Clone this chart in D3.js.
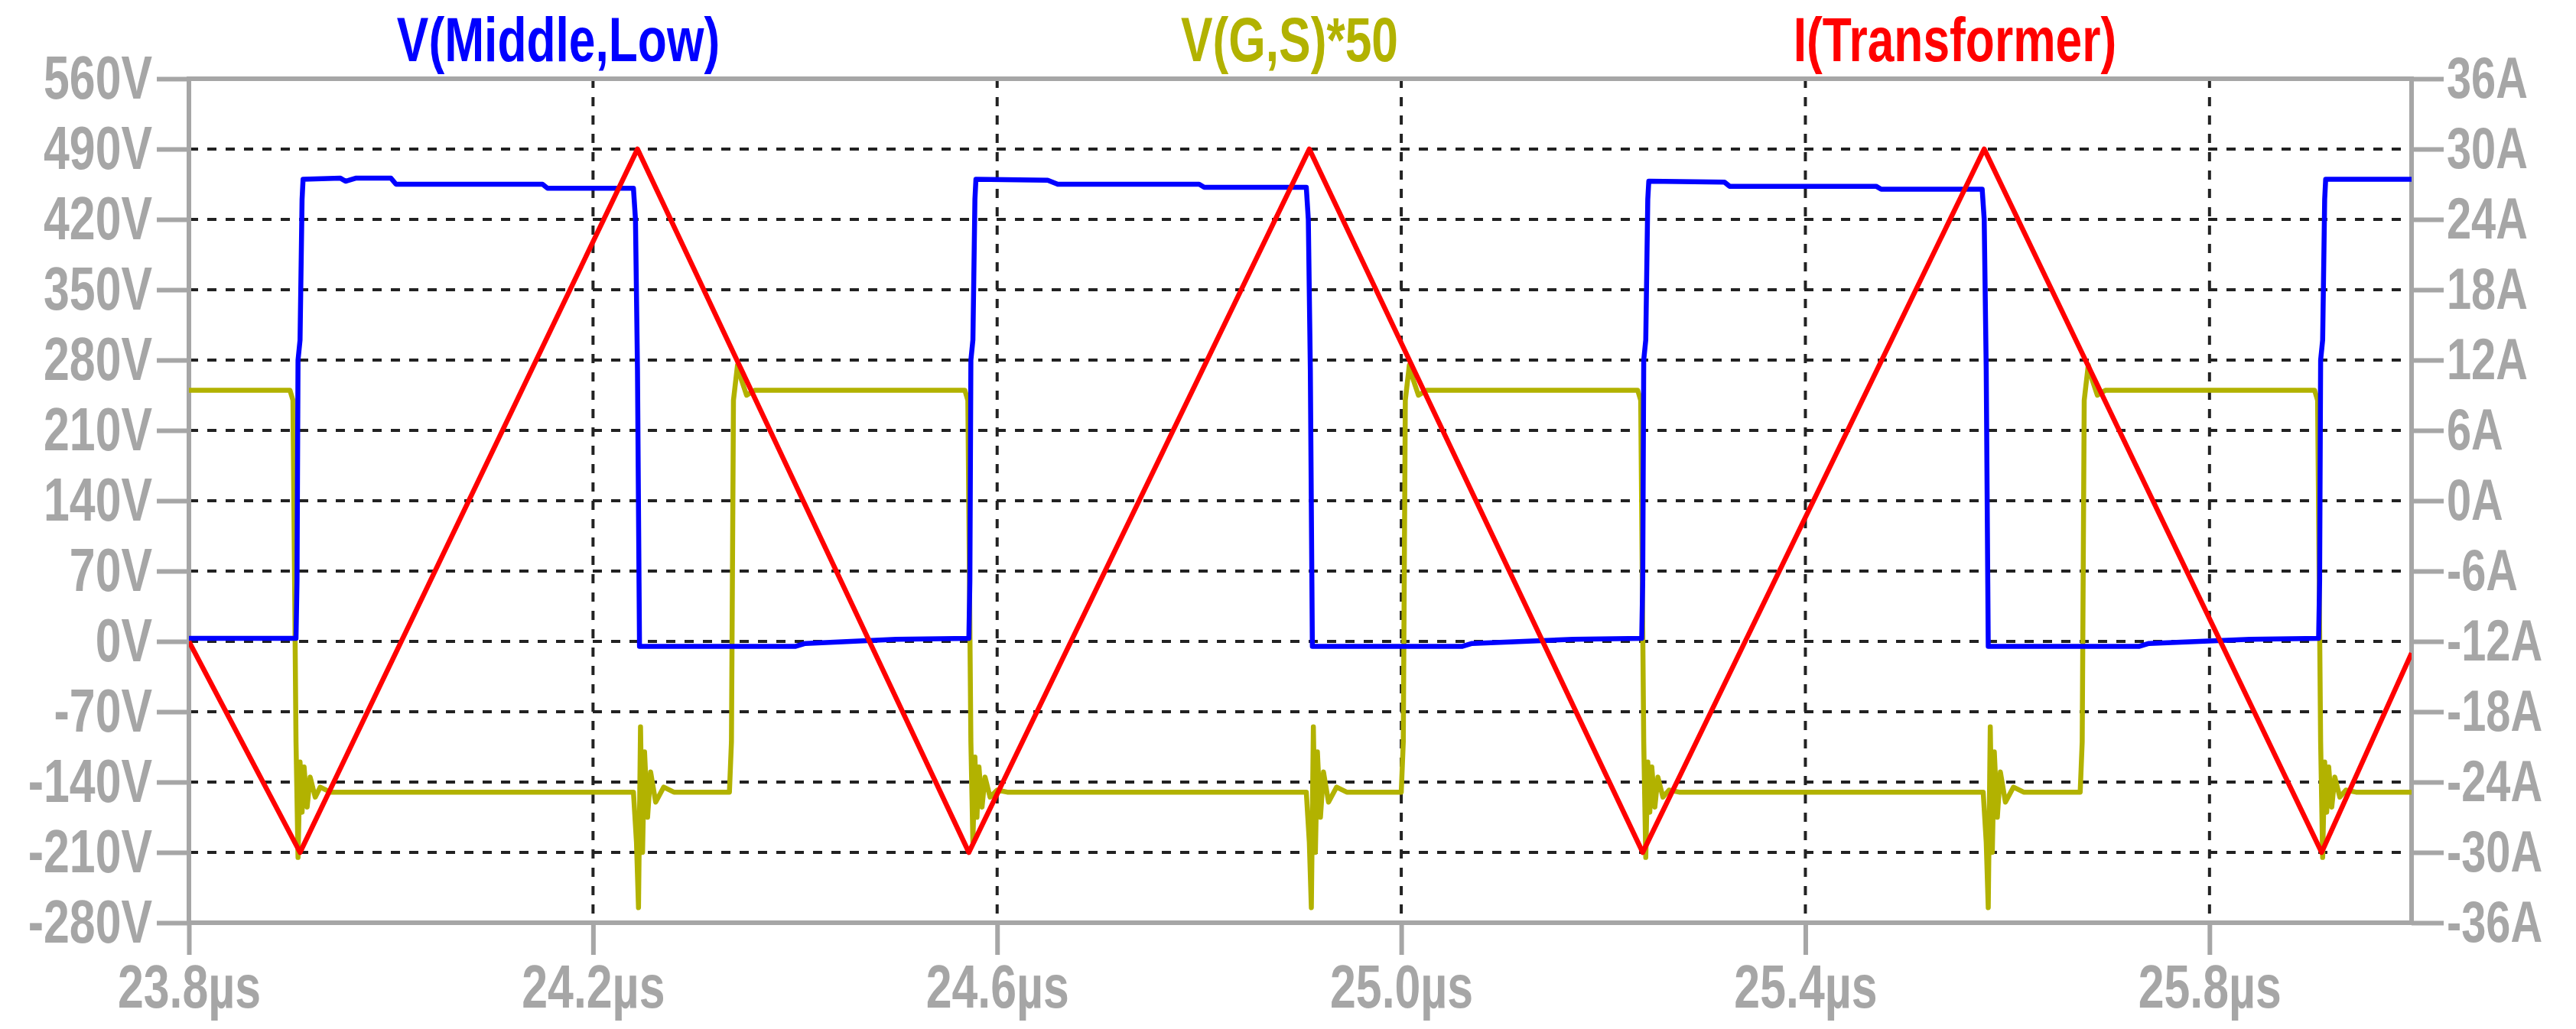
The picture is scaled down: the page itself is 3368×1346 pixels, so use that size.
<!DOCTYPE html>
<html>
<head>
<meta charset="utf-8">
<script src="https://cdn.jsdelivr.net/npm/d3@7"></script>
<style>
  body { margin: 0; background: #fff; }
  .lbl { font-family: "Liberation Sans", Arial, sans-serif; font-weight: bold; font-size: 80px; fill: #a6a6a6; }
  .ttl { font-family: "Liberation Sans", Arial, sans-serif; font-weight: bold; font-size: 82px; }
</style>
</head>
<body>
<div id="main"></div>
<script>
const timeTicks = [23.8, 24.2, 24.6, 25.0, 25.4, 25.8];
const voltTicks = [560, 490, 420, 350, 280, 210, 140, 70, 0, -70, -140, -210, -280];
const ampTicks = [36, 30, 24, 18, 12, 6, 0, -6, -12, -18, -24, -30, -36];

const redT = [23.8, 23.91, 24.244, 24.572, 24.909, 25.239, 25.577, 25.911, 26.0];
const redA = [-12, -30, 30, -30, 30, -30, 30, -30, -13];

const blueT = [23.80, 23.906, 23.907, 23.908, 23.910, 23.912, 23.913, 23.95, 23.955, 23.965, 24.00, 24.005, 24.15, 24.155, 24.240, 24.242, 24.244, 24.246, 24.40, 24.41, 24.50,
  24.572, 24.573, 24.574, 24.576, 24.578, 24.579, 24.65, 24.66, 24.80, 24.805, 24.906, 24.908, 24.910, 24.912, 25.06, 25.07, 25.17,
  25.238, 25.239, 25.240, 25.242, 25.244, 25.245, 25.32, 25.325, 25.47, 25.475, 25.575, 25.577, 25.579, 25.581, 25.73, 25.74, 25.84,
  25.908, 25.909, 25.910, 25.912, 25.914, 25.915, 26.0];
const blueV = [3, 3, 60, 280, 300, 440, 460, 461, 458, 461, 461, 455, 455, 451, 451, 420, 270, -5, -5, -2, 2,
  3, 60, 280, 300, 440, 460, 459, 455, 455, 452, 452, 420, 270, -5, -5, -2, 2,
  3, 60, 280, 300, 440, 458, 457, 453, 453, 450, 450, 420, 270, -5, -5, -2, 2,
  3, 60, 280, 300, 440, 460, 460];

const yelT = [23.80, 23.900, 23.903, 23.906, 23.908, 23.910, 23.912, 23.914, 23.917, 23.920, 23.925, 23.93, 23.94,
  24.240, 24.243, 24.245, 24.247, 24.249, 24.251, 24.254, 24.257, 24.262, 24.27, 24.28,
  24.335, 24.337, 24.339, 24.343, 24.347, 24.352, 24.36,
  24.568, 24.571, 24.574, 24.576, 24.578, 24.580, 24.582, 24.585, 24.588, 24.593, 24.60, 24.61,
  24.906, 24.909, 24.911, 24.913, 24.915, 24.917, 24.920, 24.923, 24.928, 24.936, 24.946,
  25.000, 25.002, 25.004, 25.008, 25.012, 25.017, 25.025,
  25.234, 25.237, 25.240, 25.242, 25.244, 25.246, 25.248, 25.251, 25.254, 25.259, 25.265, 25.275,
  25.576, 25.579, 25.581, 25.583, 25.585, 25.587, 25.590, 25.593, 25.598, 25.606, 25.616,
  25.672, 25.674, 25.676, 25.680, 25.684, 25.689, 25.697,
  25.904, 25.907, 25.910, 25.912, 25.914, 25.916, 25.918, 25.921, 25.924, 25.929, 25.935, 25.945, 26.0];
const yelV = [250, 250, 240, -100, -215, -120, -170, -125, -165, -135, -155, -145, -150,
  -150, -200, -265, -85, -210, -110, -175, -130, -160, -145, -150,
  -150, -100, 240, 275, 260, 245, 250,
  250, 240, -100, -200, -115, -175, -125, -165, -135, -155, -148, -150,
  -150, -200, -265, -85, -210, -110, -175, -130, -160, -145, -150,
  -150, -100, 240, 275, 260, 245, 250,
  250, 240, -100, -215, -120, -170, -125, -165, -135, -155, -148, -150,
  -150, -200, -265, -85, -210, -110, -175, -130, -160, -145, -150,
  -150, -100, 240, 275, 260, 245, 250,
  250, 240, -100, -215, -120, -170, -125, -165, -135, -155, -148, -150, -150];

const W = 3368, H = 1346;
const m = { left: 247, right: 3153, top: 103, bottom: 1207 };
const gray = "#a6a6a6";
const narrow = 0.76;

const svg = d3.select("#main").append("svg").attr("width", W).attr("height", H);

const x = d3.scaleLinear().domain([23.8, 26.0]).range([m.left, m.right]);
const yV = d3.scaleLinear().domain([-280, 560]).range([m.bottom, m.top]);
const yA = d3.scaleLinear().domain([-36, 36]).range([m.bottom, m.top]);

// grid
svg.append("g").selectAll("line").data(voltTicks.slice(1, -1)).enter().append("line")
  .attr("x1", m.left).attr("x2", m.right).attr("y1", d => yV(d)).attr("y2", d => yV(d))
  .attr("stroke", "#222").attr("stroke-width", 4).attr("stroke-dasharray", "12,12");
svg.append("g").selectAll("line").data(timeTicks.slice(1)).enter().append("line")
  .attr("x1", d => x(d)).attr("x2", d => x(d)).attr("y1", m.top).attr("y2", m.bottom)
  .attr("stroke", "#222").attr("stroke-width", 4).attr("stroke-dasharray", "12,12");

// axes
function styleAxis(g) {
  g.select(".domain").remove();
  g.selectAll(".tick line").attr("stroke", gray).attr("stroke-width", 6);
  g.selectAll(".tick text").attr("class", "lbl").attr("fill", gray);
}
svg.append("g").attr("transform", "translate(" + m.left + ",0)")
  .call(d3.axisLeft(yV).tickValues(voltTicks).tickSize(42).tickPadding(6).tickFormat(d => d + "V"))
  .call(styleAxis);
const rightAxis = svg.append("g").attr("transform", "translate(" + m.right + ",0)")
  .call(d3.axisRight(yA).tickValues(ampTicks).tickSize(42).tickPadding(4).tickFormat(d => d + "A"))
  .call(styleAxis);
rightAxis.selectAll(".tick text").style("font-size", "76px");
svg.append("g").attr("transform", "translate(0," + m.bottom + ")")
  .call(d3.axisBottom(x).tickValues(timeTicks).tickSize(42).tickPadding(12).tickFormat(d => d.toFixed(1) + "µs"))
  .call(styleAxis);

// frame
svg.append("rect").attr("x", m.left).attr("y", m.top)
  .attr("width", m.right - m.left).attr("height", m.bottom - m.top)
  .attr("fill", "none").attr("stroke", gray).attr("stroke-width", 6);

// traces
svg.append("clipPath").attr("id", "clip").append("rect")
  .attr("x", m.left).attr("y", m.top).attr("width", m.right - m.left).attr("height", m.bottom - m.top);
const plot = svg.append("g").attr("clip-path", "url(#clip)");

function trace(ts, vs, yScale, color) {
  plot.append("path")
    .datum(ts.map((t, i) => [t, vs[i]]))
    .attr("d", d3.line().x(d => x(d[0])).y(d => yScale(d[1])))
    .attr("fill", "none").attr("stroke", color).attr("stroke-width", 6.5)
    .attr("stroke-linejoin", "round");
}
trace(yelT, yelV, yV, "#b2b200");
trace(blueT, blueV, yV, "#0000ff");
trace(redT, redA, yA, "#ff0000");

// titles
const titles = [
  { text: "V(Middle,Low)", x: 730, color: "#0000ff" },
  { text: "V(G,S)*50", x: 1686, color: "#b2b200" },
  { text: "I(Transformer)", x: 2556, color: "#ff0000" }
];
svg.selectAll(".ttl").data(titles).enter().append("text")
  .attr("class", "ttl").attr("x", d => d.x).attr("y", 80)
  .attr("text-anchor", "middle").attr("fill", d => d.color).text(d => d.text);

// condensed look: squeeze every label horizontally
svg.selectAll("text").each(function () {
  const len = this.getComputedTextLength();
  d3.select(this).attr("textLength", len * narrow).attr("lengthAdjust", "spacingAndGlyphs");
});
</script>
</body>
</html>
